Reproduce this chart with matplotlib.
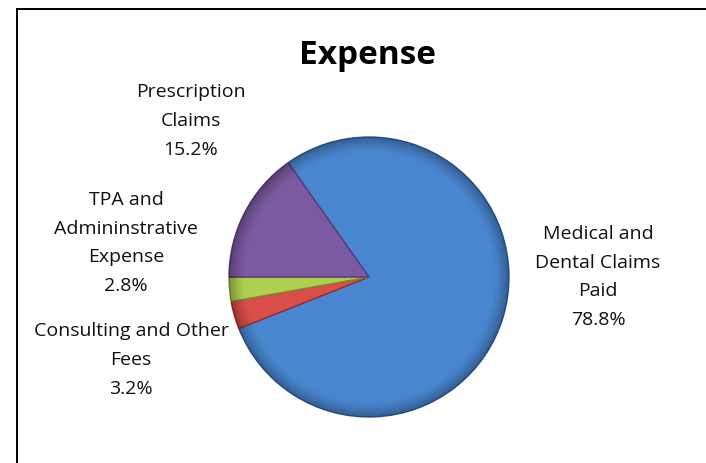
import matplotlib
matplotlib.use("Agg")
import numpy as np
import matplotlib.pyplot as plt
from matplotlib.lines import Line2D
from matplotlib.patches import Circle

categories = ["Medical and\nDental Claims\nPaid", "Consulting and Other\nFees",
              "TPA and\nAdmininstrative\nExpense", "Prescription\nClaims"]
values = [78.8, 3.2, 2.8, 15.2]
colors = ["#4a86d0", "#da4e4a", "#b0cf52", "#7c5aa2"]
edge_colors = ["#2f5c96", "#962d2a", "#76912f", "#553d76"]

W, H = 706, 464
fig = plt.figure(figsize=(W / 100, H / 100), dpi=100)
ax = fig.add_axes([0, 0, 1, 1])

font = "Open Sans"

# chart frame (top and left edges visible)
fig.add_artist(Line2D([16.5 / W, 1], [1 - 9.5 / H, 1 - 9.5 / H], color="black", lw=1.4,
                      transform=fig.transFigure))
fig.add_artist(Line2D([16.5 / W, 16.5 / W], [0, 1 - 9.5 / H], color="black", lw=1.4,
                      transform=fig.transFigure))

cx, cy, r = 369, H - 278, 140
wedges, _ = ax.pie(values, colors=colors, startangle=125.3, counterclock=False,
                   center=(cx, cy), radius=r, frame=True,
                   wedgeprops=dict(linewidth=1.0))
for w, ec in zip(wedges, edge_colors):
    w.set_edgecolor(ec)

# soft bevel shading: darker toward the rim, clipped to the pie disc
n = 500
yy, xx = np.mgrid[-1:1:n * 1j, -1:1:n * 1j]
rr = np.sqrt(xx ** 2 + yy ** 2)
shade = np.zeros((n, n, 4))
shade[..., 3] = np.clip((rr - 0.88) / 0.12, 0, 1) ** 1.5 * 0.30
img = ax.imshow(shade, extent=(cx - r, cx + r, cy - r, cy + r), origin="lower",
                zorder=3, interpolation="bilinear")
img.set_clip_path(Circle((cx, cy), r, transform=ax.transData))

ax.set_xlim(0, W)
ax.set_ylim(0, H)
ax.set_aspect("equal")
ax.axis("off")

ax.text(367, H - 56, "Expense", ha="center", va="center", fontsize=24,
        fontweight="bold", family=font)

label_pos = [(598, 277), (131, 360), (126, 243), (191, 121)]
for name, v, (lx, ly) in zip(categories, values, label_pos):
    ax.text(lx, H - ly, f"{name}\n{v:.1f}%", ha="center", va="center",
            fontsize=14, family=font, linespacing=1.77, color="#111111")

fig.savefig("out.png", dpi=100)
